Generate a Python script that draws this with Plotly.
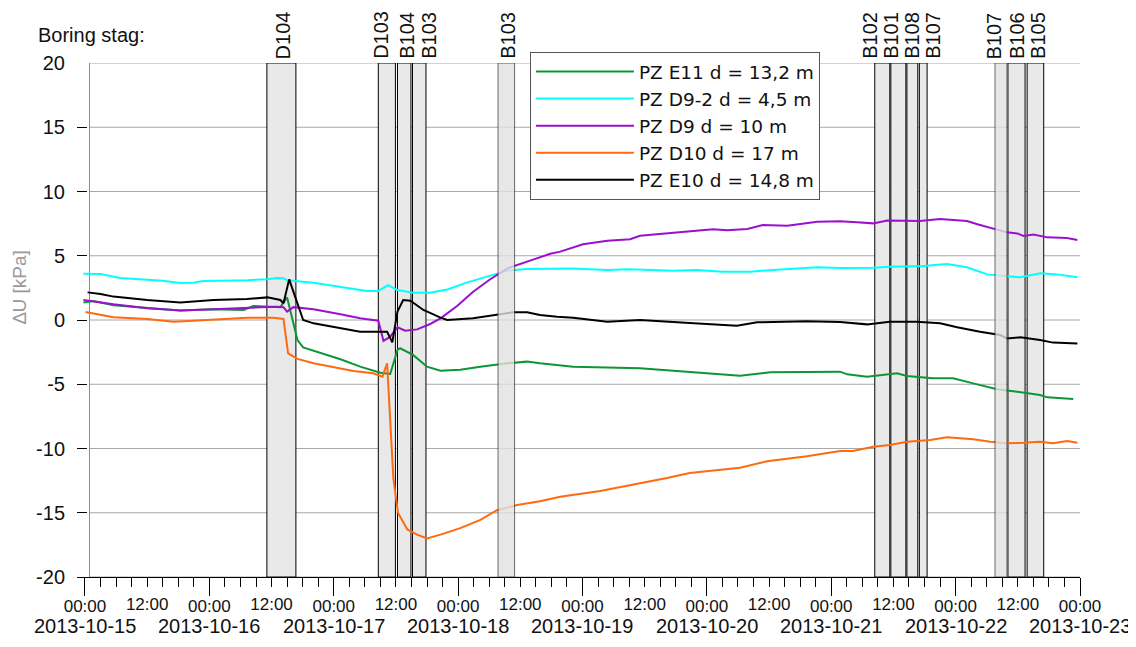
import pandas as pd
import plotly.graph_objects as go

BASE = pd.Timestamp("2013-10-15 00:00")


def t(hours):
    return [BASE + pd.Timedelta(hours=h) for h in hours]


# ---------------- data (hours after 2013-10-15 00:00, kPa) ----------------
e11_h = [-0.3, 1.6, 5.5, 12.0, 18.4, 24.8, 30.6, 32.5, 37.7, 39.0, 41.0, 42.1, 49.3, 53.1, 57.0, 58.9,
         60.3, 60.8, 63.3, 66.0, 68.6, 72.4, 76.3, 81.5, 85.3, 87.8, 91.7, 94.2, 107.1, 114.8, 126.4,
         132.2, 145.7, 147.1, 150.9, 156.7, 158.6, 163.6, 167.5, 171.4, 176.0, 179.9, 184.3, 185.7, 190.7]
e11_v = [1.37, 1.48, 1.14, 0.91, 0.73, 0.83, 0.78, 1.09, 1.00, 1.76, -1.56, -2.13, -3.06, -3.63, -4.10, -4.20,
         -2.33, -2.20, -2.72, -3.63, -3.94, -3.88, -3.63, -3.37, -3.24, -3.37, -3.50, -3.63, -3.76, -3.97, -4.33,
         -4.07, -4.02, -4.23, -4.41, -4.15, -4.36, -4.54, -4.54, -4.93, -5.39, -5.58, -5.84, -6.02, -6.15]

d92_h = [-0.3, 3.0, 6.8, 12.0, 15.0, 18.4, 20.9, 22.8, 26.0, 31.3, 35.2, 37.1, 38.3, 39.0, 44.1, 49.3, 52.0,
         54.4, 56.6, 58.5, 60.3, 63.3, 66.6, 69.9, 73.8, 77.6, 81.5, 85.3, 89.8, 94.0, 100.8, 105.0, 113.5,
         118.0, 123.1, 128.3, 132.8, 141.3, 145.7, 149.0, 152.1, 155.3, 161.7, 166.3, 170.2, 174.1, 176.6,
         180.5, 184.3, 187.6, 191.5]
d92_v = [3.60, 3.58, 3.27, 3.15, 3.05, 2.88, 2.90, 3.03, 3.05, 3.10, 3.17, 3.27, 3.25, 3.10, 2.90, 2.60, 2.45,
         2.26, 2.26, 2.72, 2.33, 2.13, 2.13, 2.38, 2.93, 3.37, 3.84, 3.97, 3.97, 4.00, 3.89, 3.95, 3.84,
         3.90, 3.76, 3.76, 3.90, 4.10, 4.05, 4.07, 4.07, 4.15, 4.20, 4.36, 4.10, 3.55, 3.45,
         3.32, 3.63, 3.55, 3.32]

d9_h = [-0.3, 5.5, 12.0, 18.4, 24.8, 31.3, 37.1, 38.3, 39.0, 40.2, 44.1, 49.3, 53.1, 56.6, 57.6, 58.9, 60.3,
        61.8, 64.1, 66.6, 68.6, 71.8, 74.9, 78.2, 81.5, 85.3, 89.8, 91.7, 96.1, 100.8, 105.2, 107.1, 113.5,
        118.1, 121.2, 123.9, 127.8, 130.8, 135.5, 141.3, 145.7, 149.0, 152.1, 154.8, 158.6, 161.1, 165.0,
        166.9, 170.2, 172.2, 175.2, 177.9, 179.9, 181.1, 183.0, 185.7, 189.5, 191.5]
d9_v = [1.56, 1.22, 0.91, 0.73, 0.83, 0.96, 1.04, 1.00, 0.65, 1.00, 0.83, 0.45, 0.13, -0.05, -1.63, -1.30, -0.57,
        -0.83, -0.73, -0.31, 0.13, 1.09, 2.20, 3.17, 4.02, 4.54, 5.15, 5.32, 5.89, 6.17, 6.28, 6.56, 6.79,
        6.95, 7.06, 6.98, 7.08, 7.39, 7.33, 7.65, 7.68, 7.60, 7.52, 7.75, 7.75, 7.70, 7.86,
        7.80, 7.70, 7.45, 7.13, 6.82, 6.74, 6.54, 6.66, 6.43, 6.38, 6.23]

d10_h = [0.1, 5.5, 12.0, 17.1, 20.9, 24.8, 31.3, 36.3, 37.7, 38.3, 39.2, 41.0, 44.1, 49.3, 51.8, 55.6, 57.4,
         58.3, 58.9, 59.5, 60.4, 62.2, 64.1, 66.0, 68.6, 72.4, 76.3, 79.5, 83.4, 87.8, 91.7, 99.4, 107.1,
         112.3, 116.7, 126.4, 131.6, 139.3, 145.7, 148.2, 152.1, 155.3, 158.6, 163.1, 166.3, 168.8, 171.4,
         174.7, 177.9, 181.1, 184.3, 186.8, 189.5, 191.5]
d10_v = [0.62, 0.21, 0.08, -0.13, -0.05, 0.05, 0.18, 0.18, 0.08, 0.08, -2.60, -3.03, -3.37, -3.76, -3.97, -4.15, -4.41,
         -3.37, -8.04, -12.3, -15.0, -16.3, -16.7, -17.0, -16.7, -16.2, -15.56, -14.8, -14.4, -14.1, -13.75, -13.3, -12.7,
         -12.3, -11.9, -11.5, -11.0, -10.6, -10.2, -10.2, -9.86, -9.72, -9.47, -9.34, -9.13, -9.20, -9.28,
         -9.47, -9.60, -9.55, -9.47, -9.60, -9.42, -9.55]

e10_h = [0.5, 3.0, 5.5, 12.0, 18.4, 24.8, 31.3, 35.2, 37.7, 38.3, 39.4, 40.6, 42.1, 44.1, 49.3, 53.1, 58.3,
         59.3, 60.3, 61.4, 62.8, 65.3, 68.6, 69.9, 74.9, 78.8, 82.6, 85.3, 87.8, 91.1, 94.2, 100.8, 107.1,
         116.7, 125.8, 129.7, 139.3, 145.7, 150.9, 155.3, 160.5, 165.0, 168.3, 172.7, 176.6, 177.9, 180.5,
         184.3, 186.8, 191.5]
e10_v = [2.15, 2.02, 1.82, 1.56, 1.37, 1.56, 1.63, 1.76, 1.56, 1.30, 3.16, 1.82, 0.00, -0.26, -0.62, -0.91, -0.91,
         -1.74, 0.65, 1.56, 1.50, 0.78, 0.18, 0.00, 0.13, 0.39, 0.60, 0.60, 0.39, 0.26, 0.18, -0.13, 0.00,
         -0.23, -0.44, -0.18, -0.10, -0.15, -0.34, -0.13, -0.13, -0.26, -0.57, -0.91, -1.17, -1.43, -1.35,
         -1.56, -1.76, -1.82]

series_names = ["PZ E11 d = 13,2 m", "PZ D9-2 d = 4,5 m", "PZ D9 d = 10 m", "PZ D10 d = 17 m", "PZ E10 d = 14,8 m"]
series_hours = [e11_h, d92_h, d9_h, d10_h, e10_h]
series_vals = [e11_v, d92_v, d9_v, d10_v, e10_v]
series_colors = ["#0c9637", "#00ffff", "#9b10cc", "#ff6a10", "#000000"]

# drilling periods (boring stag)
bar_names = ["D104", "D103", "B104", "B103", "B103", "B102", "B101", "B108", "B107", "B107", "B106", "B105"]
bar_start = [35.1, 56.6, 60.3, 63.2, 79.7, 152.4, 155.5, 158.6, 161.0, 175.6, 178.1, 181.8]
bar_end = [40.7, 59.9, 62.9, 65.8, 82.9, 155.3, 158.4, 160.7, 162.5, 177.9, 181.4, 185.0]
bar_faded = [False, False, False, False, True, False, False, False, False, True, False, False]
label_shift = [2, -6, 2, 9, 1, -13, -8, -1, 9, -7, 0, 2]

ytick_vals = [-20, -15, -10, -5, 0, 5, 10, 15, 20]
ytick_text = ["-20", "-15", "-10", "-5", "0", "5", "10", "15", "20"]
day_hours = [0, 24, 48, 72, 96, 120, 144, 168, 192]
noon_hours = [12, 36, 60, 84, 108, 132, 156, 180]
minor_hours = [h for h in range(0, 193, 3)]
date_labels = ["2013-10-15", "2013-10-16", "2013-10-17", "2013-10-18", "2013-10-19",
               "2013-10-20", "2013-10-21", "2013-10-22", "2013-10-23"]

FONT = "Arial, Liberation Sans, sans-serif"
LEG_FONT = "DejaVu Sans, Arial, sans-serif"
x_range = t([-1.54, 192.0])
axis_h = 0.87

fig = go.Figure()
for name, hh, vv, col in zip(series_names, series_hours, series_vals, series_colors):
    fig.add_trace(go.Scatter(x=t(hh), y=vv, name=name, mode="lines",
                             line=dict(color=col, width=2)))
# carrier for the secondary (00:00) tick axis
fig.add_trace(go.Scatter(x=t([0]), y=[None], xaxis="x2", yaxis="y", mode="lines",
                         showlegend=False, hoverinfo="skip"))

shapes = []
for v in ytick_vals:
    shapes.append(dict(type="line", xref="x", yref="y", x0=t([axis_h])[0], x1=t([192])[0], y0=v, y1=v,
                       line=dict(color="#a8a8a8", width=1), layer="below"))
shapes.append(dict(type="line", xref="x", yref="y", x0=t([axis_h])[0], x1=t([axis_h])[0], y0=-20, y1=20,
                   line=dict(color="#8a8a8a", width=1), layer="below"))
for s, e, fd in zip(bar_start, bar_end, bar_faded):
    if fd:
        shapes.append(dict(type="rect", xref="x", yref="y", x0=t([s])[0], x1=t([e])[0], y0=-20, y1=20,
                           fillcolor="#e2e2e2", opacity=0.8, line=dict(color="#444", width=1), layer="above"))
    else:
        shapes.append(dict(type="rect", xref="x", yref="y", x0=t([s])[0], x1=t([e])[0], y0=-20, y1=20,
                           fillcolor="#e9e9e9", line=dict(color="#000", width=1), layer="between"))

annotations = []
for nm, s, e, sh in zip(bar_names, bar_start, bar_end, label_shift):
    annotations.append(dict(text=nm, x=t([(s + e) / 2])[0], xref="x", y=1, yref="paper",
                            xanchor="center", yanchor="bottom", yshift=2, xshift=sh, textangle=-90,
                            showarrow=False, font=dict(size=20, color="#111", family=FONT)))
for h, lab in zip(day_hours, date_labels):
    annotations.append(dict(text=lab, x=t([h])[0], xref="x", y=-0.0945, yref="paper",
                            xanchor="center", yanchor="middle", showarrow=False,
                            font=dict(size=20, color="#111", family=FONT)))
annotations.append(dict(text="Boring stag:", x=-0.0405, xref="paper", y=1.0544, yref="paper",
                        xanchor="left", yanchor="middle", showarrow=False,
                        font=dict(size=20, color="#111", family=FONT)))
annotations.append(dict(text="∆U [kPa]", x=-0.0575, xref="paper", y=0.5646, yref="paper",
                        xanchor="center", yanchor="middle", textangle=-90, showarrow=False,
                        font=dict(size=19, color="#999999", family=FONT)))

fig.update_layout(
    width=1128, height=639,
    margin=dict(l=69, r=56, t=55, b=70, autoexpand=False),
    paper_bgcolor="white", plot_bgcolor="white",
    font=dict(family=FONT, color="#111"),
    showlegend=True,
    legend=dict(x=0.4516, y=1.0214, xanchor="left", yanchor="top",
                bgcolor="white", bordercolor="#555", borderwidth=1,
                font=dict(size=18.5, family=LEG_FONT, color="#111"), itemwidth=98,
                tracegroupgap=0),
    xaxis=dict(type="date", range=x_range, showgrid=False, zeroline=False, automargin=False,
               showline=True, linecolor="black", linewidth=1,
               tickmode="array", tickvals=t(noon_hours), ticktext=["12:00"] * len(noon_hours),
               ticks="outside", ticklen=9, tickcolor="black",
               tickfont=dict(size=17, family=FONT, color="#111"), ticklabelstandoff=3),
    xaxis2=dict(type="date", range=x_range, overlaying="x", anchor="y", side="bottom",
                showgrid=False, zeroline=False, showline=False, automargin=False,
                tickmode="array", tickvals=t(day_hours), ticktext=["00:00"] * len(day_hours),
                ticks="outside", ticklen=18, tickcolor="black",
                tickfont=dict(size=17, family=FONT, color="#111"), ticklabelstandoff=-4,
                minor=dict(tickmode="array", tickvals=t(minor_hours), ticks="outside",
                           ticklen=9, tickcolor="black")),
    yaxis=dict(range=[-20, 20], tickmode="array", tickvals=ytick_vals, ticktext=ytick_text,
               automargin=False, showgrid=False, zeroline=False, showline=False,
               ticks="inside", ticklen=10, tickcolor="black",
               tickfont=dict(size=20, family=FONT, color="#111"), ticklabelstandoff=11),
    shapes=shapes,
    annotations=annotations,
)

fig.write_html("out.html")
